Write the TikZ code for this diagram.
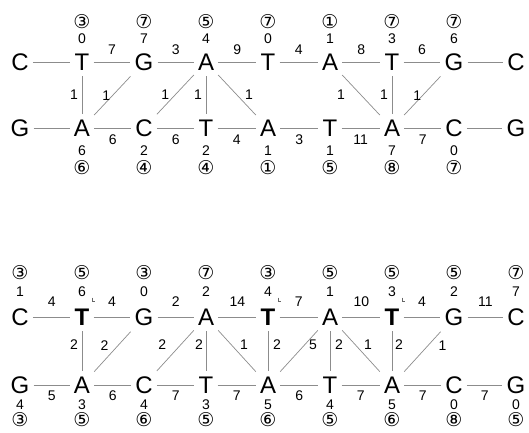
\documentclass[tikz,border=0pt]{standalone}
\usepackage{fontspec}
\setmainfont{Liberation Sans}
\newfontfamily\circfont{DejaVu Sans}
\begin{document}
\begin{tikzpicture}[x=1pt,y=-1pt,
  base/.style={font=\fontsize{24}{24}\selectfont, inner xsep=4pt, inner ysep=6pt},
  baseb/.style={font=\fontsize{24}{24}\selectfont\bfseries, inner xsep=4pt, inner ysep=6pt},
  num/.style={font=\fontsize{14}{14}\selectfont, inner sep=0pt},
  circ/.style={font=\fontsize{19}{19}\selectfont\circfont, inner sep=0pt},
  edge/.style={draw=black!45, line width=0.7pt},
  lbl/.style={font=\fontsize{14}{14}\selectfont, inner sep=0pt},
  tickm/.style={draw=black!60, line width=0.5pt}]
\useasboundingbox (0,0) rectangle (529,432);
% ---------- top section ----------
\foreach \l [count=\i] in {C,T,G,A,T,A,T,G,C}
  \node[base] (a\i) at ({20+62*(\i-1)},62) {\l};
\foreach \l [count=\i] in {G,A,C,T,A,T,A,C,G}
  \node[base] (b\i) at ({20+62*(\i-1)},128) {\l};
\foreach \i/\n/\c in {2/0/③,3/7/⑦,4/4/⑤,5/0/⑦,6/1/①,7/3/⑦,8/6/⑦}{
  \node[num] (an\i) at ({20+62*(\i-1)},39) {\n};
  \node[circ] (ac\i) at ({20+62*(\i-1)},22) {\c};}
\foreach \i/\n/\c in {2/6/⑥,3/2/④,4/2/④,5/1/①,6/1/⑤,7/7/⑧,8/0/⑦}{
  \node[num] (bn\i) at ({20+62*(\i-1)},151) {\n};
  \node[circ] (bc\i) at ({20+62*(\i-1)},168) {\c};}
\foreach \i/\j/\w in {1/2/,2/3/7,3/4/3,4/5/9,5/6/4,6/7/8,7/8/6,8/9/}
  \draw[edge] (a\i) -- (a\j) node[lbl,midway,yshift=12pt] {\w};
\foreach \i/\j/\w in {1/2/,2/3/6,3/4/6,4/5/4,5/6/3,6/7/11,7/8/7,8/9/}
  \draw[edge] (b\i) -- (b\j) node[lbl,midway,yshift=-12pt] {\w};
\draw[edge] (a2) -- (b2) node[lbl,midway,xshift=-8pt] {1};
\draw[edge] (a3) -- (b2) node[lbl,midway,xshift=-6pt] {1};
\draw[edge] (a4) -- (b3) node[lbl,midway,xshift=-10pt] {1};
\draw[edge] (a4) -- (b4) node[lbl,midway,xshift=-8pt] {1};
\draw[edge] (a4) -- (b5) node[lbl,midway,xshift=12pt] {1};
\draw[edge] (a6) -- (b7) node[lbl,midway,xshift=-20pt] {1};
\draw[edge] (a7) -- (b7) node[lbl,midway,xshift=-8pt] {1};
\draw[edge] (a8) -- (b7) node[lbl,midway,xshift=-5pt] {1};
% ---------- bottom section ----------
\node[base]  (c1) at (20,317) {C};
\node[baseb] (c2) at (82,317) {T};
\node[base]  (c3) at (144,317) {G};
\node[base]  (c4) at (206,317) {A};
\node[baseb] (c5) at (268,317) {T};
\node[base]  (c6) at (330,317) {A};
\node[baseb] (c7) at (392,317) {T};
\node[base]  (c8) at (454,317) {G};
\node[base]  (c9) at (516,317) {C};
\foreach \l [count=\i] in {G,A,C,T,A,T,A,C,G}
  \node[base] (d\i) at ({20+62*(\i-1)},385) {\l};
\foreach \i/\n/\c in {1/1/③,2/6/⑤,3/0/③,4/2/⑦,5/4/③,6/1/⑤,7/3/⑤,8/2/⑤,9/7/⑦}{
  \node[num] (cn\i) at ({20+62*(\i-1)},292) {\n};
  \node[circ] (cc\i) at ({20+62*(\i-1)},273) {\c};}
\foreach \i/\n/\c in {1/4/③,2/3/⑤,3/4/⑥,4/3/⑤,5/5/⑥,6/4/⑤,7/5/⑥,8/0/⑧,9/0/⑤}{
  \node[num] (dn\i) at ({20+62*(\i-1)},405) {\n};
  \node[circ] (dc\i) at ({20+62*(\i-1)},420) {\c};}
\foreach \i/\j/\w in {1/2/4,2/3/4,3/4/2,4/5/14,5/6/7,6/7/10,7/8/4,8/9/11}
  \draw[edge] (c\i) -- (c\j) node[lbl,midway,yshift=15pt] {\w};
\foreach \i/\j/\w in {1/2/5,2/3/6,3/4/7,4/5/7,5/6/6,6/7/7,7/8/7,8/9/7}
  \draw[edge] (d\i) -- (d\j) node[lbl,midway,yshift=-11pt] {\w};
\draw[edge] (c2) -- (d2) node[lbl,midway,xshift=-8pt,yshift=6pt] {2};
\draw[edge] (c3) -- (d2) node[lbl,midway,xshift=-8pt,yshift=6pt] {2};
\draw[edge] (c4) -- (d3) node[lbl,midway,xshift=-13pt,yshift=6pt] {2};
\draw[edge] (c4) -- (d4) node[lbl,midway,xshift=-7pt,yshift=6pt] {2};
\draw[edge] (c4) -- (d5) node[lbl,midway,xshift=7pt,yshift=6pt] {1};
\draw[edge] (c5) -- (d5) node[lbl,midway,xshift=9pt,yshift=6pt] {2};
\draw[edge] (c6) -- (d5) node[lbl,midway,xshift=14pt,yshift=6pt] {5};
\draw[edge] (c6) -- (d6) node[lbl,midway,xshift=9pt,yshift=6pt] {2};
\draw[edge] (c6) -- (d7) node[lbl,midway,xshift=7pt,yshift=6pt] {1};
\draw[edge] (c7) -- (d7) node[lbl,midway,xshift=7pt,yshift=6pt] {2};
\draw[edge] (c8) -- (d7) node[lbl,midway,xshift=20pt,yshift=6pt] {1};
% small corner marks beside the bold T's
\foreach \n in {c2,c5,c7}
  \draw[tickm] ([xshift=-1pt,yshift=5pt]\n.north east) -- ++(0,4) -- ++(2.5,0);
\end{tikzpicture}
\end{document}
